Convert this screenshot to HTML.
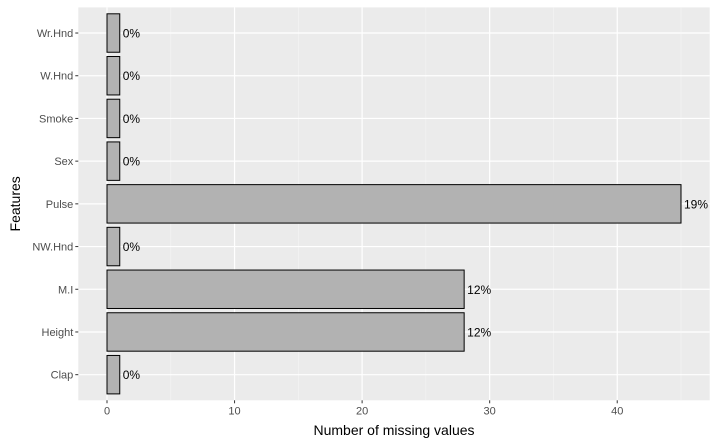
<!DOCTYPE html>
<html><head><meta charset="utf-8"><style>
body{margin:0;background:#fff;}
svg{display:block;font-family:"Liberation Sans",Arial,sans-serif;}
</style></head><body>
<svg id="chart" width="718" height="445"></svg>
<script>
const categories=["Wr.Hnd","W.Hnd","Smoke","Sex","Pulse","NW.Hnd","M.I","Height","Clap"];
const values=[1,1,1,1,45,1,28,28,1];
const labels=["0%","0%","0%","0%","19%","0%","12%","12%","0%"];
const xTicks=[0,10,20,30,40];
const xMinor=[5,15,25,35,45];
const NS="http://www.w3.org/2000/svg";
const svg=document.getElementById('chart');
const pL=78.3,pR=709.7,pT=7.4,pB=400.3;
const xMin=-2.25,xMax=47.25;
const x=v=>pL+(v-xMin)/(xMax-xMin)*(pR-pL);
const step=(pB-pT)/(categories.length+0.2);
const y=i=>pT+step*(0.6+i);
function el(t,a,p){const e=document.createElementNS(NS,t);for(const k in a)e.setAttribute(k,a[k]);(p||svg).appendChild(e);return e;}
const panel=el('rect',{x:pL,y:pT,width:pR-pL,height:pB-pT,fill:'#ebebeb'});


xMinor.forEach(v=>{const l=el('line',{x1:x(v),x2:x(v),y1:pT,y2:pB,stroke:'#f5f5f5','stroke-width':0.6});

});
xTicks.forEach(v=>{const l=el('line',{x1:x(v),x2:x(v),y1:pT,y2:pB,stroke:'#fff','stroke-width':1.2});


const t=el('line',{x1:x(v),x2:x(v),y1:pB,y2:pB+3,stroke:'#333','stroke-width':1});


const tx=el('text',{x:x(v),y:pB+14,'text-anchor':'middle','font-size':11,fill:'#4d4d4d'});tx.textContent=v;

});
categories.forEach((c,i)=>{const cy=y(i);
const g=el('line',{x1:pL,x2:pR,y1:cy,y2:cy,stroke:'#fff','stroke-width':1.2});


const t=el('line',{x1:pL-3,x2:pL,y1:cy,y2:cy,stroke:'#333','stroke-width':1});


const tl=el('text',{x:pL-5,y:cy+4,'text-anchor':'end','font-size':11,fill:'#4d4d4d'});tl.textContent=c;

});
const bh=step*0.9;
categories.forEach((c,i)=>{const cy=y(i);
const b=el('rect',{x:x(0),y:cy-bh/2,width:x(values[i])-x(0),height:bh,fill:'#b2b2b2',stroke:'#000','stroke-width':1});


const lt=el('text',{x:x(values[i])+3,y:cy+4.5,'font-size':12,fill:'#000'});lt.textContent=labels[i];

});
const xt=el('text',{x:(pL+pR)/2,y:435,'text-anchor':'middle','font-size':14,fill:'#000'});xt.textContent='Number of missing values';


const yt=el('text',{x:20,y:(pT+pB)/2,'text-anchor':'middle','font-size':14,fill:'#000',transform:'rotate(-90 20 '+((pT+pB)/2)+')'});yt.textContent='Features';


</script>
</body></html>
